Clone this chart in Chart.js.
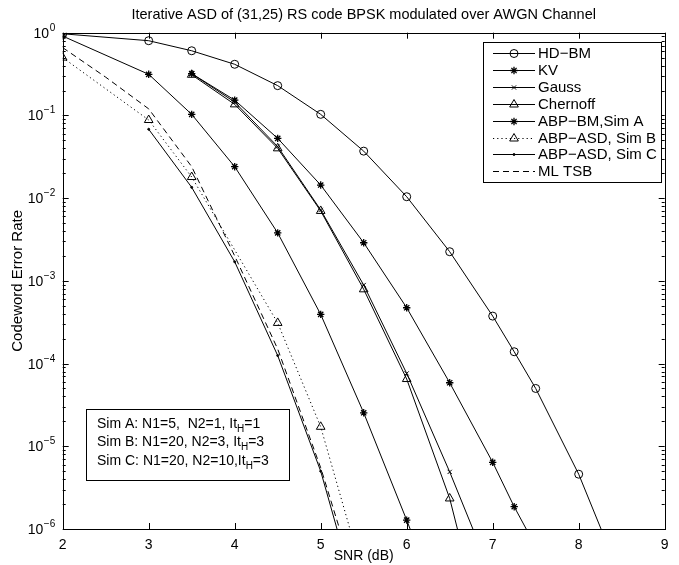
<!DOCTYPE html>
<html>
<head>
<meta charset="utf-8">
<script src="https://cdn.jsdelivr.net/npm/chart.js@4.4.1/dist/chart.umd.min.js"></script>
<style>
html, body { margin: 0; padding: 0; background: #fff; }
#wrap { width: 679px; height: 565px; }
</style>
</head>
<body>
<div id="wrap"><canvas id="cerChart" width="679" height="565"></canvas></div>
<script>
// axis ticks
const SNR_TICKS = [2, 3, 4, 5, 6, 7, 8, 9];
const CER_EXPONENTS = [0, -1, -2, -3, -4, -5, -6];

// curves; the last point of each is where it leaves the axes
const hdbmSnr = [2, 3, 3.5, 4, 4.5, 5, 5.5, 6, 6.5, 7, 7.25, 7.5, 8, 8.26];
const hdbmCer = [0.97, 0.80, 0.605, 0.415, 0.229, 0.103, 0.037, 0.0104, 0.00225, 3.75e-4, 1.39e-4, 5.0e-5, 4.6e-6, 1e-6];

const kvSnr = [3.5, 4, 4.5, 5, 5.5, 6, 6.5, 7, 7.25, 7.39];
const kvCer = [0.32, 0.153, 0.0528, 0.0144, 0.00289, 4.73e-4, 5.86e-5, 6.4e-6, 1.86e-6, 1e-6];

const gaussSnr = [3.5, 4, 4.5, 5, 5.5, 6, 6.5, 6.77];
const gaussCer = [0.32, 0.145, 0.042, 0.0072, 8.9e-4, 7.6e-5, 4.9e-6, 1e-6];

const chernoffSnr = [3.5, 4, 4.5, 5, 5.5, 6, 6.5, 6.59];
const chernoffCer = [0.31, 0.136, 0.040, 0.0070, 7.9e-4, 6.5e-5, 2.34e-6, 1e-6];

const abpBmSnr = [2, 3, 3.5, 4, 4.5, 5, 5.5, 6, 6.04];
const abpBmCer = [0.91, 0.314, 0.103, 0.024, 0.0038, 3.93e-4, 2.54e-5, 1.28e-6, 1e-6];

const simBSnr = [2, 3, 3.5, 4.5, 5, 5.34];
const simBCer = [0.50, 0.088, 0.018, 3.1e-4, 1.72e-5, 1e-6];

const simCSnr = [3, 3.5, 4, 4.5, 5, 5.19];
const simCCer = [0.068, 0.0135, 0.0017, 1.25e-4, 5.0e-6, 1e-6];

const tsbSnr = [2, 2.5, 3, 3.5, 4, 4.5, 5, 5.22];
const tsbCer = [0.66, 0.29, 0.12, 0.024, 0.002, 1.5e-4, 5.5e-6, 1e-6];

const SIM_NOTES = [
    ['Sim A: N1=5,  N2=1, It', 'H', '=1'],
    ['Sim B: N1=20, N2=3, It', 'H', '=3'],
    ['Sim C: N1=20, N2=10,It', 'H', '=3']
];

const FONT = '"Liberation Sans", Arial, Helvetica, sans-serif';

function series(label, xs, ys, marker, radius, dash, fill) {
    return {
        label: label,
        data: xs.map((x, i) => ({ x: x, y: ys[i] })),
        borderColor: '#000',
        borderWidth: 1,
        borderDash: dash || [],
        pointStyle: marker,
        pointRadius: xs.map((x, i) => i === xs.length - 1 ? 0 : radius),
        pointBorderColor: '#000',
        pointBackgroundColor: fill ? '#000' : 'rgba(0,0,0,0)',
        pointBorderWidth: marker === 'star' ? 1.3 : 1,
        tension: 0,
        fill: false
    };
}

const datasets = [
    series('HD\u2212BM', hdbmSnr, hdbmCer, 'circle', 4),
    series('KV', kvSnr, kvCer, 'star', 3.7),
    series('Gauss', gaussSnr, gaussCer, 'crossRot', 3),
    series('Chernoff', chernoffSnr, chernoffCer, 'triangle', 5),
    series('ABP\u2212BM,Sim A', abpBmSnr, abpBmCer, 'star', 3.7),
    series('ABP\u2212ASD, Sim B', simBSnr, simBCer, 'triangle', 5, [1.2, 3]),
    series('ABP\u2212ASD, Sim C', simCSnr, simCCer, 'circle', 1, null, true),
    series('ML TSB', tsbSnr, tsbCer, false, 0, [6, 4])
];

function drawMarker(ctx, ds, x, y) {
    if (!ds.pointStyle) return;
    const r = Math.max.apply(null, ds.pointRadius);
    ctx.save();
    ctx.setLineDash([]);
    ctx.strokeStyle = '#000';
    ctx.lineWidth = ds.pointBorderWidth;
    ctx.fillStyle = ds.pointBackgroundColor;
    Chart.helpers.drawPoint(ctx, { pointStyle: ds.pointStyle, radius: r, rotation: 0, borderWidth: ds.pointBorderWidth }, x, y);
    ctx.restore();
}

const framePlugin = {
    id: 'matlabFrame',
    afterDraw(chart) {
        const ctx = chart.ctx;
        const a = chart.chartArea;
        const xs = chart.scales.x;
        const ys = chart.scales.y;
        ctx.save();
        ctx.strokeStyle = '#000';
        ctx.fillStyle = '#000';
        ctx.lineWidth = 1;
        ctx.setLineDash([]);

        // box
        ctx.strokeRect(Math.round(a.left) + 0.5, Math.round(a.top) + 0.5,
            Math.round(a.right - a.left), Math.round(a.bottom - a.top));

        // ticks
        ctx.beginPath();
        SNR_TICKS.forEach(v => {
            const px = Math.round(xs.getPixelForValue(v)) + 0.5;
            ctx.moveTo(px, a.bottom); ctx.lineTo(px, a.bottom - 6);
            ctx.moveTo(px, a.top); ctx.lineTo(px, a.top + 6);
        });
        CER_EXPONENTS.forEach(k => {
            const py = Math.round(ys.getPixelForValue(Math.pow(10, k))) + 0.5;
            ctx.moveTo(a.left, py); ctx.lineTo(a.left + 6, py);
            ctx.moveTo(a.right, py); ctx.lineTo(a.right - 6, py);
            if (k < 0) {
                for (let m = 2; m <= 9; m++) {
                    const my = Math.round(ys.getPixelForValue(m * Math.pow(10, k))) + 0.5;
                    ctx.moveTo(a.left, my); ctx.lineTo(a.left + 3, my);
                    ctx.moveTo(a.right, my); ctx.lineTo(a.right - 3, my);
                }
            }
        });
        ctx.stroke();

        // tick labels
        ctx.font = '14px ' + FONT;
        ctx.textAlign = 'center';
        ctx.textBaseline = 'top';
        SNR_TICKS.forEach(v => ctx.fillText(String(v), xs.getPixelForValue(v), a.bottom + 9));

        ctx.textAlign = 'left';
        ctx.textBaseline = 'alphabetic';
        CER_EXPONENTS.forEach(k => {
            const py = ys.getPixelForValue(Math.pow(10, k));
            const ex = k === 0 ? '0' : '\u2212' + String(-k);
            ctx.font = '14px ' + FONT;
            const wb = ctx.measureText('10').width;
            ctx.font = '10px ' + FONT;
            const we = ctx.measureText(ex).width;
            const x0 = a.left - 8 - we - wb;
            ctx.font = '14px ' + FONT;
            ctx.fillText('10', x0, py + 5);
            ctx.font = '10px ' + FONT;
            ctx.fillText(ex, x0 + wb + 0.5, py - 2);
        });

        // title and axis labels
        ctx.textAlign = 'center';
        ctx.textBaseline = 'middle';
        const cx = (a.left + a.right) / 2;
        ctx.font = '14.5px ' + FONT;
        ctx.fillText('Iterative ASD of (31,25) RS code BPSK modulated over AWGN Channel', cx, 15);
        ctx.font = '14px ' + FONT;
        ctx.fillText('SNR (dB)', cx, 556);
        ctx.save();
        ctx.translate(18, (a.top + a.bottom) / 2);
        ctx.rotate(-Math.PI / 2);
        ctx.font = '15px ' + FONT;
        ctx.fillText('Codeword Error Rate', 0, 0);
        ctx.restore();

        // legend
        const lg = { left: 483, top: 42, width: 178, height: 140 };
        ctx.fillStyle = '#fff';
        ctx.fillRect(lg.left, lg.top, lg.width, lg.height);
        ctx.strokeRect(lg.left + 0.5, lg.top + 0.5, lg.width, lg.height);
        ctx.textAlign = 'left';
        ctx.textBaseline = 'middle';
        chart.data.datasets.forEach((ds, i) => {
            const y = Math.round(53 + i * 16.9) + 0.5;
            ctx.strokeStyle = '#000';
            ctx.lineWidth = 1;
            ctx.setLineDash(ds.borderDash);
            ctx.beginPath();
            ctx.moveTo(493, y);
            ctx.lineTo(535, y);
            ctx.stroke();
            drawMarker(ctx, ds, 514, y);
            ctx.fillStyle = '#000';
            ctx.font = '15px ' + FONT;
            ctx.fillText(ds.label, 538, y + 0.5);
        });
        ctx.setLineDash([]);

        // simulation parameter box
        const nb = { left: 86, top: 409, width: 203, height: 71 };
        ctx.fillStyle = '#fff';
        ctx.fillRect(nb.left, nb.top, nb.width, nb.height);
        ctx.strokeStyle = '#000';
        ctx.lineWidth = 1;
        ctx.strokeRect(nb.left + 0.5, nb.top + 0.5, nb.width, nb.height);
        ctx.fillStyle = '#000';
        ctx.textBaseline = 'alphabetic';
        SIM_NOTES.forEach((parts, i) => {
            const base = 428 + i * 18.4;
            let x = 97;
            ctx.font = '14px ' + FONT;
            ctx.fillText(parts[0], x, base);
            x += ctx.measureText(parts[0]).width;
            ctx.font = '10px ' + FONT;
            ctx.fillText(parts[1], x, base + 4);
            x += ctx.measureText(parts[1]).width;
            ctx.font = '14px ' + FONT;
            ctx.fillText(parts[2], x, base);
        });
        ctx.restore();
    }
};

new Chart(document.getElementById('cerChart').getContext('2d'), {
    type: 'line',
    data: { datasets: datasets },
    options: {
        responsive: false,
        animation: false,
        devicePixelRatio: 1,
        layout: { padding: { top: 32.7, right: 14.3, left: 0, bottom: 0 } },
        plugins: {
            legend: { display: false },
            title: { display: false },
            tooltip: { enabled: false }
        },
        scales: {
            x: {
                type: 'linear',
                min: 2,
                max: 9,
                grid: { display: false },
                border: { display: false },
                ticks: { display: false },
                afterFit(scale) { scale.height = 36; }
            },
            y: {
                type: 'logarithmic',
                min: 1e-6,
                max: 1,
                grid: { display: false },
                border: { display: false },
                ticks: { display: false },
                afterFit(scale) { scale.width = 62.7; }
            }
        }
    },
    plugins: [framePlugin]
});
</script>
</body>
</html>
